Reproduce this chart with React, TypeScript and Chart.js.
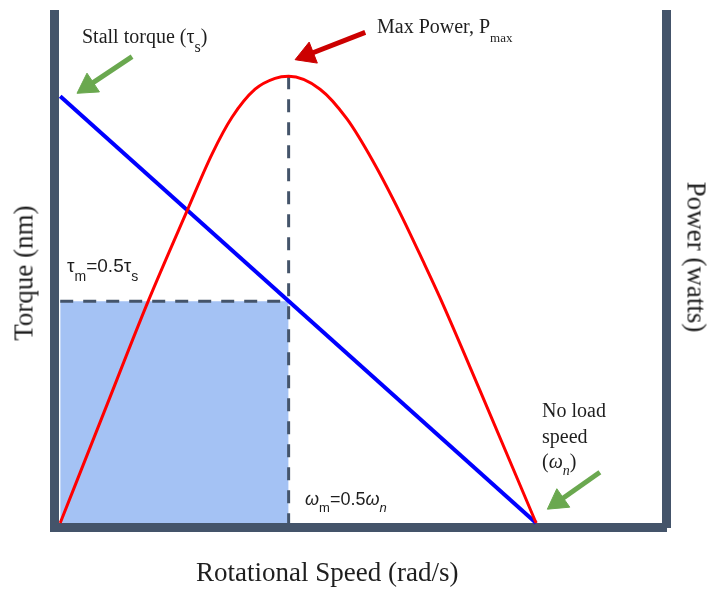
import React, { useEffect, useRef } from "react";
import { Chart, registerables } from "chart.js";

Chart.register(...registerables);

// ---- data (arbitrary units) ----
const torqueSpeed = [0, 100]; // rotational speed, ω (0 .. ω_n)
const torqueValues = [100, 0]; // torque, τ (τ_s .. 0)
const powerSpeed = [0, 9.2, 18.45, 26.65, 31.9, 36.1, 40.95, 45.15, 48, 54.6, 60.3, 65.7, 71.4, 76.2, 79.8, 88.2, 100];
const powerValues = [0, 619, 1239, 1747, 2065, 2271, 2428, 2489, 2500, 2428, 2260, 2026, 1736, 1468, 1261, 742, 0];
const omegaM = 48;
const tauM = 52;
const pMax = 2500;
// annotation arrows: [tail, head] in (speed, torque) units
const stallArrow = [[15.1, 109.3], [5.8, 102.4]];
const maxPowerArrow = [[64.1, 115], [51.9, 109.7]];
const noLoadArrow = [[113.4, 11.9], [104.6, 5.0]];

const xMin = -1.2;
const xMax = 127.3;
const tMin = -1.05;
const tMax = 119.3;
const pMin = -25.1;
const pAxisMax = 2849;

const AXIS = "#44546a";
const SERIF = '"Liberation Serif", "Times New Roman", serif';
const SANS = '"Liberation Sans", Arial, sans-serif';
const TEXT = "#1e1e1e";

const pts = (xs: number[], ys: number[]) => xs.map((x, i) => ({ x, y: ys[i] }));
const arrowPts = (a: number[][]) => a.map(([x, y]) => ({ x, y }));

const arrowRotation = (ctx: any) => {
  const chart = ctx.chart;
  const d = ctx.dataset.data;
  const sx = chart.scales.x;
  const sy = chart.scales.y;
  const dx = sx.getPixelForValue(d[1].x) - sx.getPixelForValue(d[0].x);
  const dy = sy.getPixelForValue(d[1].y) - sy.getPixelForValue(d[0].y);
  return (Math.atan2(dx, -dy) * 180) / Math.PI;
};

const arrowDataset = (a: number[][], color: string) => ({
  type: "line" as const,
  data: arrowPts(a),
  yAxisID: "y",
  borderColor: color,
  backgroundColor: color,
  borderWidth: 5,
  pointStyle: "triangle",
  pointRadius: (c: any) => (c.dataIndex === 1 ? 13 : 0),
  pointBorderWidth: 1,
  pointBorderColor: color,
  pointBackgroundColor: color,
  pointRotation: arrowRotation,
  clip: false as any,
  order: 0,
});

function Txt(props: { x: number; base: number; size: number; family: string; children: React.ReactNode; style?: React.CSSProperties }) {
  const k = props.family === SERIF ? 0.8375 : 0.8465;
  return (
    <div
      style={{
        position: "absolute",
        left: props.x,
        top: props.base - k * props.size,
        fontFamily: props.family,
        fontSize: props.size,
        lineHeight: 1,
        whiteSpace: "nowrap",
        color: TEXT,
        ...props.style,
      }}
    >
      {props.children}
    </div>
  );
}

const Sub = (p: { size: number; drop: number; italic?: boolean; children: React.ReactNode }) => (
  <span style={{ fontSize: p.size, position: "relative", top: p.drop, fontStyle: p.italic ? "italic" : "normal" }}>{p.children}</span>
);

export default function App() {
  const ref = useRef<HTMLCanvasElement | null>(null);

  useEffect(() => {
    if (!ref.current) return;
    const chart = new Chart(ref.current, {
      type: "line",
      data: {
        datasets: [
          {
            data: pts([0, omegaM], [tauM, tauM]),
            yAxisID: "y",
            borderWidth: 0,
            borderColor: "rgba(0,0,0,0)",
            backgroundColor: "#a4c2f4",
            fill: "origin",
            pointRadius: 0,
            order: 6,
          },
          {
            data: pts([0, omegaM], [tauM, tauM]),
            yAxisID: "y",
            borderColor: AXIS,
            borderWidth: 3,
            borderDash: [13, 10],
            pointRadius: 0,
            fill: false,
            order: 5,
          },
          {
            data: pts([omegaM, omegaM], [pMax, 0]),
            yAxisID: "y2",
            borderColor: AXIS,
            borderWidth: 3,
            borderDash: [13, 10],
            pointRadius: 0,
            fill: false,
            order: 4,
          },
          {
            data: pts(torqueSpeed, torqueValues),
            yAxisID: "y",
            borderColor: "#0000ff",
            borderWidth: 4,
            pointRadius: 0,
            fill: false,
            order: 2,
          },
          {
            data: pts(powerSpeed, powerValues),
            yAxisID: "y2",
            borderColor: "#ff0000",
            borderWidth: 3,
            pointRadius: 0,
            fill: false,
            cubicInterpolationMode: "monotone",
            order: 1,
          },
          arrowDataset(stallArrow, "#6aa84f") as any,
          arrowDataset(maxPowerArrow, "#cc0000") as any,
          arrowDataset(noLoadArrow, "#6aa84f") as any,
        ],
      },
      options: {
        responsive: false,
        animation: false,
        events: [],
        layout: { padding: { left: 54.5, right: 41, top: 12.5, bottom: 64.5 } },
        plugins: { legend: { display: false }, tooltip: { enabled: false } },
        scales: {
          x: {
            type: "linear",
            position: "bottom",
            min: xMin,
            max: xMax,
            ticks: { display: false },
            grid: { color: "rgba(0,0,0,0)", drawTicks: false },
            border: { display: true, color: AXIS, width: 9 },
          },
          y: {
            type: "linear",
            position: "left",
            min: tMin,
            max: tMax,
            ticks: { display: false },
            grid: { color: "rgba(0,0,0,0)", drawTicks: false },
            border: { display: true, color: AXIS, width: 9 },
          },
          y2: {
            type: "linear",
            position: "right",
            min: pMin,
            max: pAxisMax,
            ticks: { display: false },
            grid: { color: "rgba(0,0,0,0)", drawTicks: false },
            border: { display: true, color: AXIS, width: 9 },
          },
        },
      },
    });
    return () => chart.destroy();
  }, []);

  return (
    <div style={{ position: "absolute", left: 0, top: 0, width: 707, height: 592, background: "#fff", overflow: "hidden" }}>
      <canvas ref={ref} width={707} height={592} style={{ display: "block" }} />

      {/* axis titles */}
      <Txt x={196} base={582} size={27} family={SERIF}>Rotational Speed (rad/s)</Txt>
      <div
        style={{
          position: "absolute",
          left: 23.8,
          top: 272.5,
          transform: "translate(-50%, -50%) rotate(-90deg)",
          fontFamily: SERIF,
          fontSize: 27,
          whiteSpace: "nowrap",
          color: TEXT,
        }}
      >
        Torque (nm)
      </div>
      <div
        style={{
          position: "absolute",
          left: 696,
          top: 256.5,
          transform: "translate(-50%, -50%) rotate(90deg)",
          fontFamily: SERIF,
          fontSize: 27,
          whiteSpace: "nowrap",
          color: TEXT,
        }}
      >
        Power (watts)
      </div>

      {/* annotations */}
      <Txt x={82} base={43} size={20} family={SERIF}>
        Stall torque (τ<Sub size={16} drop={9}>s</Sub>)
      </Txt>
      <Txt x={377} base={33} size={20} family={SERIF}>
        Max Power, P<Sub size={13} drop={9}>max</Sub>
      </Txt>
      <Txt x={542} base={417} size={20} family={SERIF}>No load</Txt>
      <Txt x={542} base={443} size={20} family={SERIF}>speed</Txt>
      <Txt x={542} base={468} size={20} family={SERIF}>
        (<i>ω</i><Sub size={14} drop={7} italic>n</Sub>)
      </Txt>
      <Txt x={67} base={272} size={19} family={SANS}>
        τ<Sub size={14} drop={9}>m</Sub>=0.5τ<Sub size={14} drop={9}>s</Sub>
      </Txt>
      <Txt x={305} base={505} size={18} family={SANS}>
        <i>ω</i><Sub size={13} drop={7}>m</Sub>=0.5<i>ω</i><Sub size={13} drop={7} italic>n</Sub>
      </Txt>
    </div>
  );
}
